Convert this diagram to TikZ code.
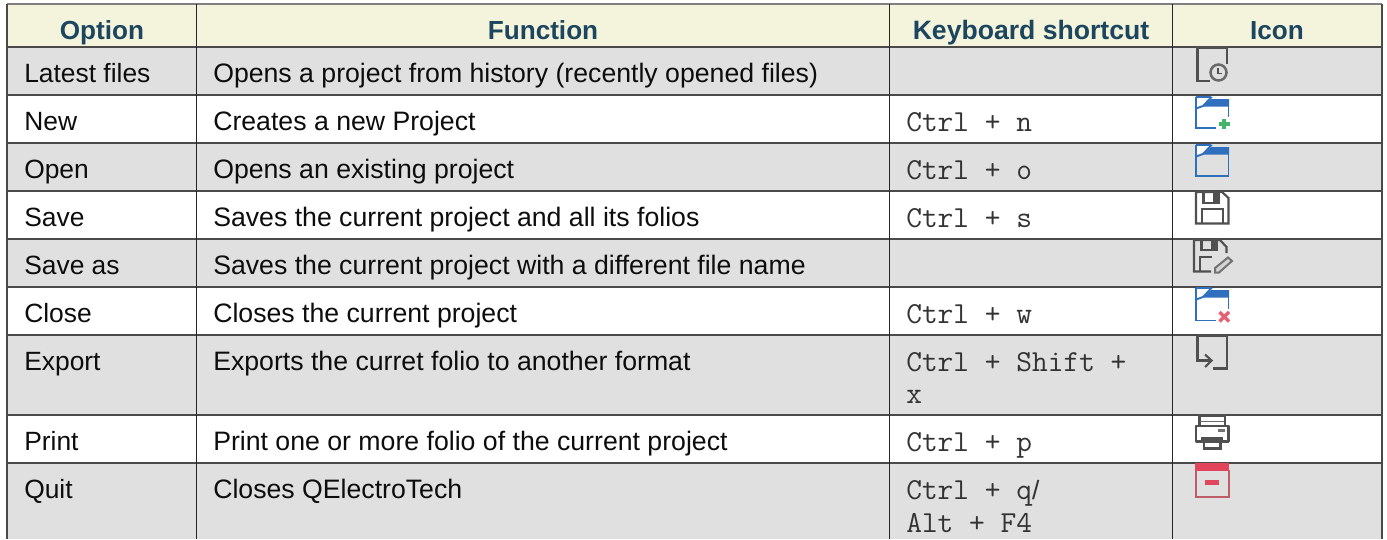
\documentclass[tikz,border=0pt]{standalone}
\usepackage{fontspec}
\setmainfont{Liberation Sans}
\definecolor{headbg}{HTML}{F4F4DC}
\definecolor{headfg}{HTML}{1C465F}
\definecolor{rowgrey}{HTML}{E0E0E0}
\definecolor{gridc}{HTML}{4A4A4A}
\definecolor{iconc}{HTML}{505050}
\definecolor{blueic}{HTML}{2E6FBE}
\definecolor{greenic}{HTML}{45B56E}
\definecolor{redic}{HTML}{E0455C}
\tikzset{
  x=0.75pt,y=-0.75pt,
  headtxt/.style={anchor=base,inner sep=0,font=\fontsize{19.6pt}{22pt}\selectfont\bfseries,text=headfg},
  keyhead/.style={anchor=base,inner sep=0,font=\fontsize{19.95pt}{22pt}\selectfont\bfseries,text=headfg},
  celltxt/.style={anchor=base west,inner sep=0,font=\fontsize{19.8pt}{22pt}\selectfont,text=black!95},
  functxt/.style={anchor=base west,inner sep=0,font=\fontsize{20pt}{22pt}\selectfont,text=black!95},
  monotxt/.style={anchor=base west,inner sep=0,font=\fontsize{22.9pt}{24pt}\selectfont\ttfamily,text=black!80},
  gridline/.style={draw=gridc,line width=0.95pt},
  icongrey/.style={draw=iconc,line width=1.6pt},
  iconblue/.style={draw=blueic,line width=1.4pt},
}
\newcommand{\folderic}[1]{%
  \begin{scope}[shift={(1195,#1)}]
    \fill[blueic] (16,3) -- (34,3) -- (34,10.5) -- (8,10.5) -- cycle;
    \fill[white] (1,1) -- (15,1) -- (8,8) -- (1,12) -- cycle;
    \draw[iconblue] (1,12.5) -- (8,10) -- (16,1.5) -- (15,1) -- (1,1);
  \end{scope}}
\begin{document}
\begin{tikzpicture}
\useasboundingbox (0,0) rectangle (1387,539);
\fill[white] (0,0) rectangle (1387,539);
\fill[headbg] (7,4) rectangle (1382,47);
\foreach \a/\b in {47/95,143/191,239/287,335/415,463/539}
  \fill[rowgrey] (7,\a) rectangle (1382,\b);
\foreach \yy in {47,95,143,191,239,287,335,415,463}
  \draw[gridline] (7,\yy) -- (1382,\yy);
\draw[draw=gridc!70,line width=0.8pt] (7,4) -- (1382,4);
\draw[draw=gridc,line width=0.8pt] (7,4) -- (7,539) (1382,4) -- (1382,539);
\foreach \xx in {196,889,1172}
  \draw[draw=black!85,line width=0.65pt] (\xx,4) -- (\xx,539);
% header
\node[headtxt] (hoption) at (102,39) {Option};
\node[headtxt] (hfunction) at (543,39) {Function};
\node[keyhead] (hkey) at (1031,39) {Keyboard shortcut};
\node[headtxt] (hicon) at (1277,39) {Icon};
% options
\node[celltxt] (o1) at (24,82) {Latest files};
\node[celltxt] (o2) at (24,130) {New};
\node[celltxt] (o3) at (24,178) {Open};
\node[celltxt] (o4) at (24,226) {Save};
\node[celltxt] (o5) at (24,274) {Save as};
\node[celltxt] (o6) at (24,322) {Close};
\node[celltxt] (o7) at (24,370) {Export};
\node[celltxt] (o8) at (24,450) {Print};
\node[celltxt] (o9) at (24,498) {Quit};
% functions
\node[functxt] (f1) at (213,82) {Opens a project from history (recently opened files)};
\node[functxt] (f2) at (213,130) {Creates a new Project};
\node[functxt] (f3) at (213,178) {Opens an existing project};
\node[functxt] (f4) at (213,226) {Saves the current project and all its folios};
\node[functxt] (f5) at (213,274) {Saves the current project with a different file name};
\node[functxt] (f6) at (213,322) {Closes the current project};
\node[functxt] (f7) at (213,370) {Exports the curret folio to another format};
\node[functxt] (f8) at (213,450) {Print one or more folio of the current project};
\node[functxt] (f9) at (213,498) {Closes QElectroTech};
% shortcuts
\node[monotxt] (k2) at (906,131) {Ctrl + n};
\node[monotxt] (k3) at (906,179) {Ctrl + o};
\node[monotxt] (k4) at (906,227) {Ctrl + s};
\node[monotxt] (k6) at (906,323) {Ctrl + w};
\node[monotxt] (k7) at (906,371) {Ctrl + Shift +};
\node[monotxt] (k7b) at (906,403) {x};
\node[monotxt] (k8) at (906,451) {Ctrl + p};
\node[monotxt] (k9) at (906,499) {Ctrl + q{\rmfamily\fontsize{19.8pt}{22pt}\selectfont /}};
\node[monotxt] (k9b) at (906,532) {Alt + F4};
% icon: latest files
\draw[icongrey] (1210,81) -- (1197.5,81) -- (1197.5,47.5) -- (1227,47.5) -- (1227,64);
\draw[draw=iconc!85,line width=1.9pt] (1218.5,72.5) circle[radius=8];
\draw[draw=iconc,line width=1.1pt] (1218,68) -- (1218,73.5) -- (1222,73.5);
% icon: new
\folderic{96}
\draw[iconblue] (1196,97) -- (1196,128) -- (1216,128);
\draw[iconblue] (1228.5,99) -- (1228.5,117);
\draw[draw=greenic,line width=2.6pt] (1219,124) -- (1229.5,124) (1224,119) -- (1224,129);
% icon: open
\folderic{144}
\draw[iconblue] (1196,145) -- (1196,176) -- (1228.5,176) -- (1228.5,147);
% icon: save
\draw[icongrey] (1196,192) -- (1196,223.5) -- (1228.5,223.5) -- (1228.5,198) -- (1222,192) -- cycle;
\draw[icongrey] (1203.5,192) -- (1203.5,203) -- (1219,203) -- (1219,192);
\fill[iconc] (1213,192) rectangle (1220,203);
\draw[icongrey] (1202,224) -- (1202,209) -- (1223,209) -- (1223,224);
% icon: save as
\draw[icongrey] (1211,271.5) -- (1194,271.5) -- (1194,240) -- (1220,240) -- (1226.5,247) -- (1226.5,253);
\draw[icongrey] (1201.5,240) -- (1201.5,250) -- (1217,250) -- (1217,240);
\fill[iconc] (1211,240) rectangle (1218,250);
\draw[icongrey] (1200,272) -- (1200,257) -- (1212,257);
\draw[draw=iconc!80,line width=1.5pt,fill=iconc!25] (1215,272.5) -- (1215,268) -- (1228,257.5) -- (1232,261) -- (1219,272.5) -- cycle;
% icon: close
\folderic{287}
\draw[iconblue] (1196,288) -- (1196,320.5) -- (1216,320.5);
\draw[iconblue] (1228.5,290) -- (1228.5,309);
\draw[draw=redic!85,line width=2.6pt] (1219.5,312) -- (1229,321.5) (1229,312) -- (1219.5,321.5);
% icon: export
\draw[icongrey] (1197.5,335.5) -- (1197.5,360.5) -- (1211,360.5);
\draw[icongrey] (1205,354.5) -- (1211.5,360.5) -- (1205,367);
\draw[icongrey] (1197.5,335.5) -- (1227,335.5) -- (1227,368.5) -- (1213,368.5);
% icon: print
\draw[icongrey] (1199.5,425) -- (1199.5,415.5) -- (1225,415.5) -- (1225,425);
\draw[draw=iconc!85,line width=1.2pt] (1200,421.5) -- (1224,421.5);
\draw[icongrey,line join=round] (1204,441.5) -- (1196,441.5) -- (1196,426) -- (1228.5,426) -- (1228.5,441.5) -- (1220,441.5);
\fill[iconc] (1201,437) rectangle (1223,442.5);
\draw[icongrey] (1204,441.5) -- (1204,448.5) -- (1220.5,448.5) -- (1220.5,441.5);
\fill[iconc!80] (1218,429) rectangle (1225,432);
% icon: quit
\fill[redic] (1195,463) rectangle (1229,471);
\draw[draw=redic!75!rowgrey!85!black,line width=1.5pt] (1195.5,470) -- (1195.5,497) -- (1229,497) -- (1229,470);
\fill[redic] (1205,480) rectangle (1219,485);
\end{tikzpicture}
\end{document}
